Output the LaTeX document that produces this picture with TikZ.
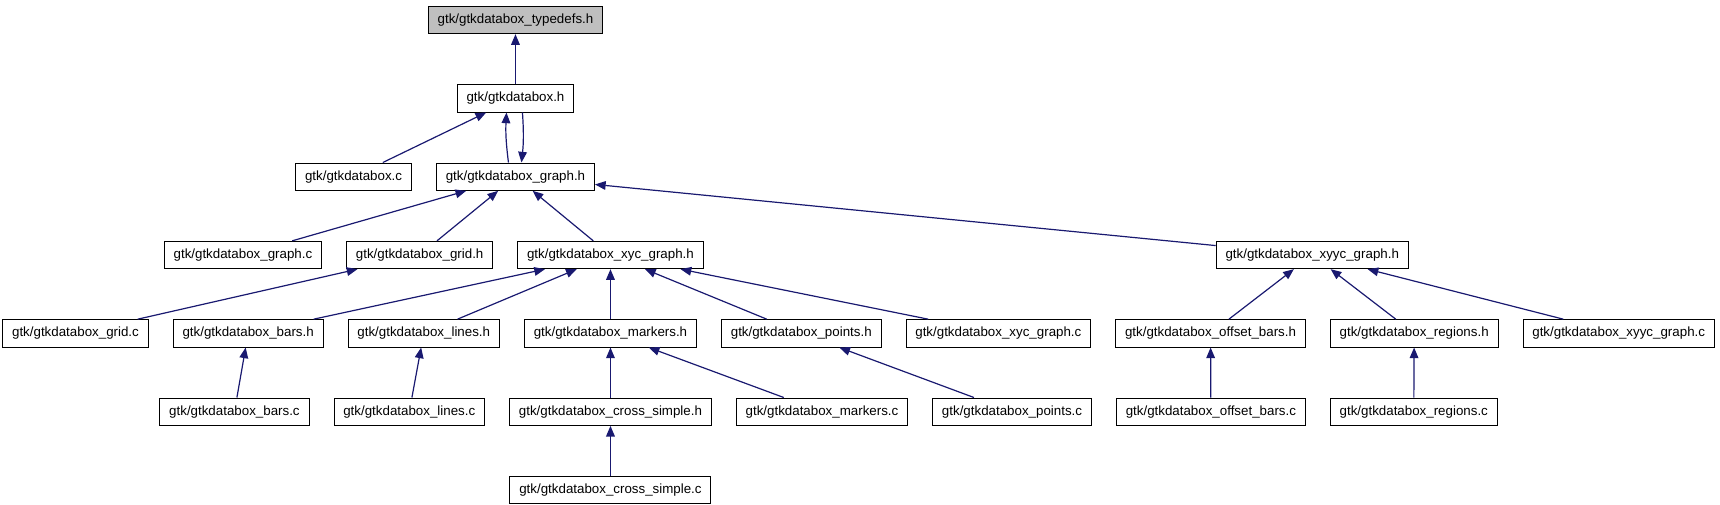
\documentclass[tikz,border=0pt]{standalone}
\usepackage{xcolor}
\usepackage{fontspec}
\setmainfont{Liberation Sans}
\usepackage{tikz}
\usetikzlibrary{arrows.meta,positioning}
\definecolor{azulgv}{RGB}{25,25,112}
\definecolor{cinza}{RGB}{191,191,191}

\begin{document}
\begin{tikzpicture}[
	font=\fontsize{10}{12}\selectfont,
	>={Triangle[length=8pt,width=6.5pt]},
	node distance=37.5pt and 18pt,
	arq/.style={rectangle, draw=black, fill=white, line width=0.75pt, minimum height=20.5pt, inner xsep=7pt, inner ysep=0pt},
	raiz/.style={arq, fill=cinza},
	seta/.style={->, line width=0.9pt, azulgv},
]
\useasboundingbox (-386.6pt,15pt) rectangle ++(1290pt,-378pt);
\node[raiz] (tdef) at (0,0) {gtk/gtkdatabox\_typedefs.h};
\node[arq]  (dbh) [below=of tdef] {gtk/gtkdatabox.h};
\node[arq]  (grafh) [below=of dbh] {gtk/gtkdatabox\_graph.h};
\node[arq]  (dbc) [left=of grafh] {gtk/gtkdatabox.c};
\node[arq]  (xycgh) [below=of grafh, xshift=71.25pt] {gtk/gtkdatabox\_xyc\_graph.h};
\node[arq]  (gridh) [left=of xycgh] {gtk/gtkdatabox\_grid.h};
\node[arq]  (grafc) [left=of gridh] {gtk/gtkdatabox\_graph.c};
\node[arq]  (xyycgh) [right=384pt of xycgh] {gtk/gtkdatabox\_xyyc\_graph.h};
\node[arq]  (markh) [below=of xycgh] {gtk/gtkdatabox\_markers.h};
\node[arq]  (linesh) [left=of markh] {gtk/gtkdatabox\_lines.h};
\node[arq]  (barsh) [left=of linesh] {gtk/gtkdatabox\_bars.h};
\node[arq]  (gridc) [left=of barsh] {gtk/gtkdatabox\_grid.c};
\node[arq]  (pointsh) [right=of markh] {gtk/gtkdatabox\_points.h};
\node[arq]  (xycgc) [right=of pointsh] {gtk/gtkdatabox\_xyc\_graph.c};
\node[arq]  (offbh) [right=of xycgc] {gtk/gtkdatabox\_offset\_bars.h};
\node[arq]  (regh) [right=of offbh] {gtk/gtkdatabox\_regions.h};
\node[arq]  (xyycgc) [right=of regh] {gtk/gtkdatabox\_xyyc\_graph.c};
\node[arq]  (crossh) [below=of markh] {gtk/gtkdatabox\_cross\_simple.h};
\node[arq]  (linesc) [left=of crossh] {gtk/gtkdatabox\_lines.c};
\node[arq]  (barsc) [left=of linesc] {gtk/gtkdatabox\_bars.c};
\node[arq]  (markc) [right=of crossh] {gtk/gtkdatabox\_markers.c};
\node[arq]  (pointsc) [right=of markc] {gtk/gtkdatabox\_points.c};
\node[arq]  (offbc) [right=of pointsc] {gtk/gtkdatabox\_offset\_bars.c};
\node[arq]  (regc) [right=of offbc] {gtk/gtkdatabox\_regions.c};
\node[arq]  (crossc) [below=of crossh] {gtk/gtkdatabox\_cross\_simple.c};

\draw[seta] (dbh) -- (tdef);
\draw[seta] (dbc) -- (dbh);
\draw[seta] ([xshift=-5.25pt]grafh.north) to[bend left=5] ([xshift=-6.75pt]dbh.south);
\draw[seta] ([xshift=5.25pt]dbh.south) to[bend left=5] ([xshift=4.5pt]grafh.north);
\draw[seta] (grafc) -- (grafh);
\draw[seta] (gridh) -- (grafh);
\draw[seta] (xycgh) -- (grafh);
\draw[seta] (xyycgh) -- (grafh);
\draw[seta] (gridc) -- (gridh);
\draw[seta] (barsh) -- (xycgh);
\draw[seta] (linesh) -- (xycgh);
\draw[seta] (markh) -- (xycgh);
\draw[seta] (pointsh) -- (xycgh);
\draw[seta] (xycgc) -- (xycgh);
\draw[seta] (barsc) -- (barsh);
\draw[seta] (linesc) -- (linesh);
\draw[seta] (crossh) -- (markh);
\draw[seta] (markc) -- (markh);
\draw[seta] (pointsc) -- (pointsh);
\draw[seta] (crossc) -- (crossh);
\draw[seta] (offbh) -- (xyycgh);
\draw[seta] (regh) -- (xyycgh);
\draw[seta] (xyycgc) -- (xyycgh);
\draw[seta] (offbc) -- (offbh);
\draw[seta] (regc) -- (regh);
\end{tikzpicture}
\end{document}
